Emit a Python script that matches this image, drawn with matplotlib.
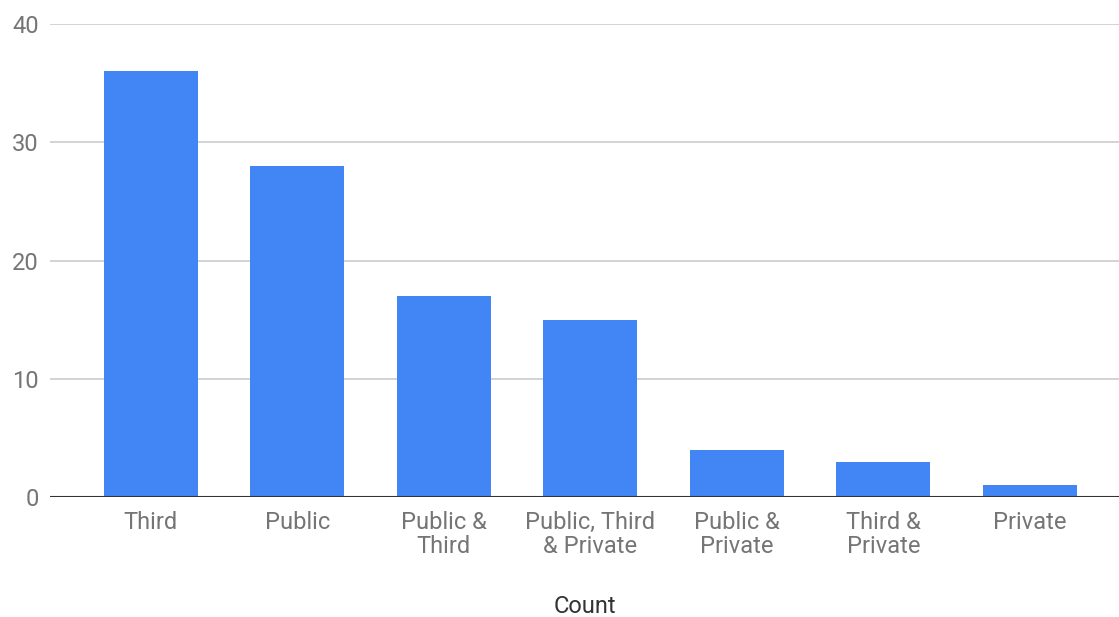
import matplotlib
matplotlib.use("Agg")
import matplotlib.pyplot as plt

categories = ["Third", "Public", "Public &\nThird", "Public, Third\n& Private",
              "Public &\nPrivate", "Third &\nPrivate", "Private"]
counts = [36, 28, 17, 15, 4, 3, 1]
yticks = [0, 10, 20, 30, 40]

plt.rcParams['font.family'] = ['Roboto', 'DejaVu Sans']
fig = plt.figure(figsize=(11.19, 6.17), dpi=100)
ax = fig.add_axes([50/1119, 120/617, 1 - 50/1119, (497-24)/617])

x = list(range(len(categories)))
ax.bar(x, counts, width=0.64, color="#4285F4", zorder=3)
ax.set_xlim(-0.687, 6.609)
ax.set_ylim(0, 40)
ax.set_yticks(yticks)
ax.set_xticks(x)
ax.set_xticklabels(categories, linespacing=1.05)
ax.yaxis.grid(True, color="#cccccc", linewidth=1.2, zorder=0)
ax.axhline(0, color="#333333", linewidth=1.5, zorder=4)
for s in ax.spines.values():
    s.set_visible(False)
ax.tick_params(axis='both', length=0, labelsize=17, labelcolor="#757575")
ax.tick_params(axis='y', pad=8)
ax.tick_params(axis='x', pad=10)
ax.set_xlabel("Count", fontsize=17, color="#333333", labelpad=27)
fig.savefig("out.png", dpi=100)
